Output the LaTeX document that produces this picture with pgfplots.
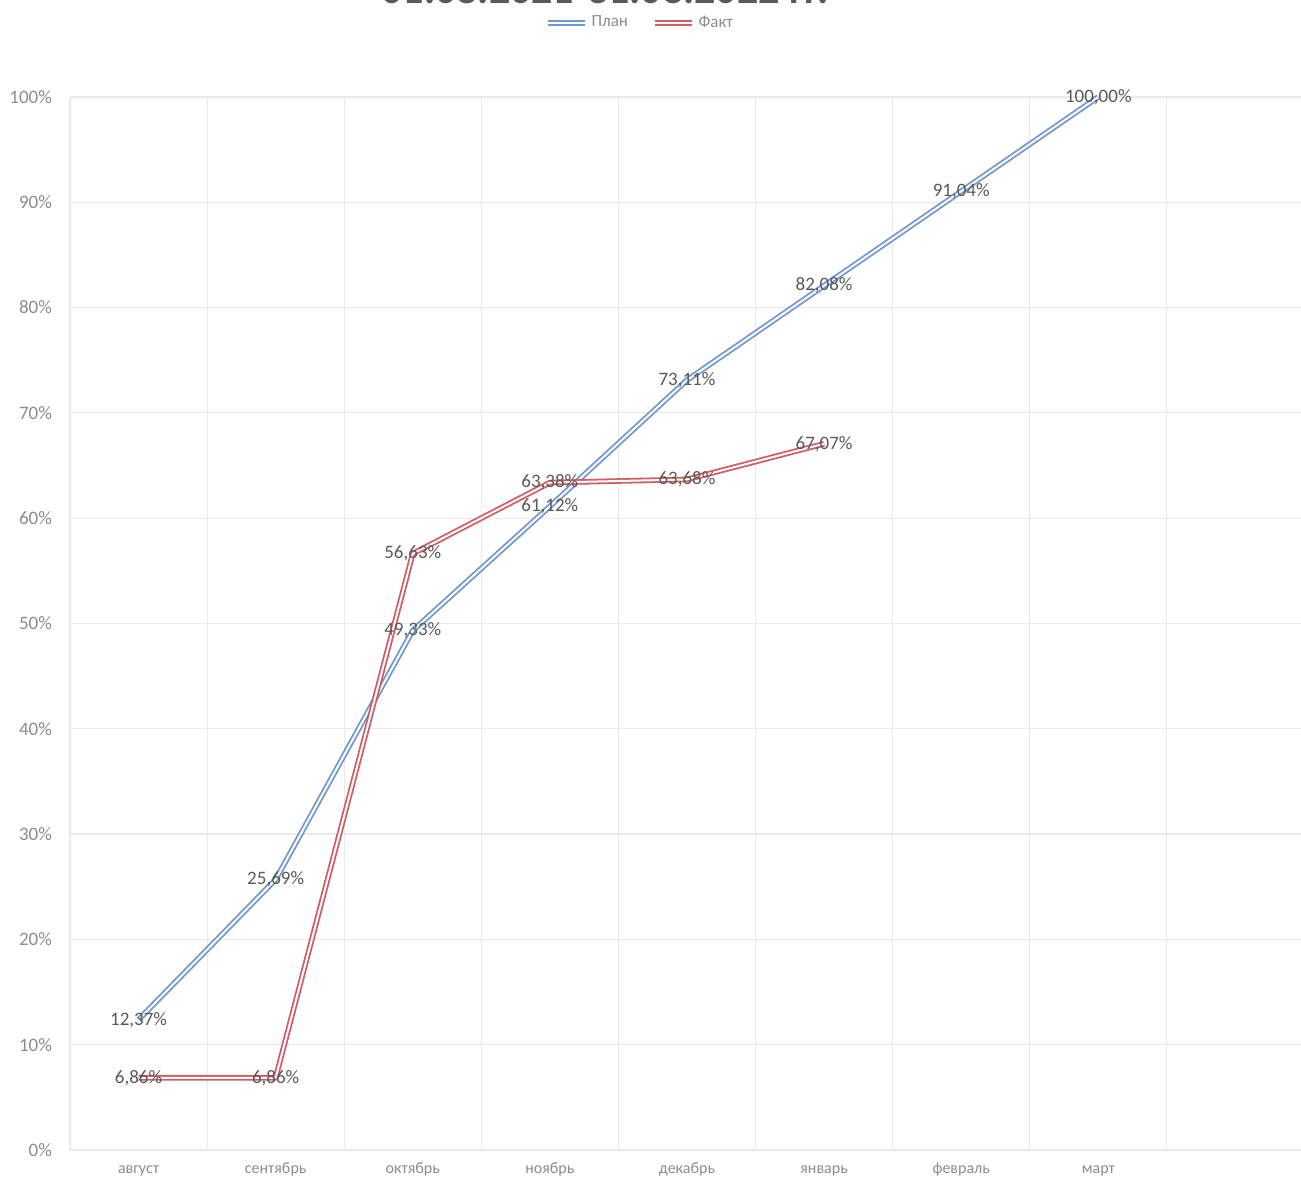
\documentclass[border=0pt]{standalone}
\usepackage{pgfplots}
\pgfplotsset{compat=1.18}
\usepackage{fontspec}
\setmainfont{Carlito}
\definecolor{planc}{RGB}{112,152,206}
\definecolor{faktc}{RGB}{210,92,102}
\definecolor{lblc}{RGB}{89,89,89}
\definecolor{tickc}{RGB}{140,140,140}
\definecolor{gridc}{RGB}{234,234,234}
\begin{document}
\begin{tikzpicture}
\begin{axis}[
  at={(0,0)}, anchor=south west,
  scale only axis, width=617pt, height=526.5pt,
  xmin=-0.5, xmax=8.5, ymin=0, ymax=100,
  clip=false,
  xtick={0,...,7},
  xticklabels={август,сентябрь,октябрь,ноябрь,декабрь,январь,февраль,март},
  minor xtick={-0.5,0.5,...,8.5},
  ytick={0,10,...,100},
  yticklabel={\pgfmathprintnumber{\tick}\%},
  /pgf/number format/assume math mode=true,
  xminorgrids, ymajorgrids,
  minor grid style={draw=gridc, line width=0.6pt},
  major grid style={draw=gridc, line width=0.6pt},
  axis line style={draw=none},
  major tick length=0pt, minor tick length=0pt,
  xticklabel style={font=\fontsize{8}{10}\selectfont, text=tickc, anchor=base, yshift=-12pt},
  yticklabel style={font=\fontsize{9.5}{11}\selectfont, text=tickc, anchor=east, xshift=-5.5pt},
  legend image code/.code={\draw[#1] (0pt,0pt) -- (18.5pt,0pt);},
  legend style={at={(0.4627,1.0703)}, anchor=center, draw=none, fill=none,
    legend columns=2, font=\fontsize{8.5}{10}\selectfont, text=tickc,
    /tikz/every even column/.append style={column sep=10pt}},
  every node near coord/.append style={text=lblc, anchor=center,
    font=\fontsize{9.5}{11}\selectfont},
  nodes near coords={\pgfmathprintnumber[fixed,fixed zerofill,precision=2,use comma]{\pgfplotspointmeta}\%},
  point meta=y,
]
\addplot[draw=planc, line width=0.9pt, double=white, double distance=1.0pt, line join=round]
  coordinates {(0,12.37) (1,25.69) (2,49.33) (3,61.12) (4,73.11) (5,82.08) (6,91.04) (7,100.00)};
\addlegendentry{План}
\addplot[draw=faktc, line width=0.9pt, double=white, double distance=1.0pt, line join=round]
  coordinates {(0,6.86) (1,6.86) (2,56.63) (3,63.38) (4,63.68) (5,67.07)};
\addlegendentry{Факт}
\node[anchor=base, font=\bfseries\fontsize{21}{25}\selectfont, text=lblc]
  at (rel axis cs:0.4335,1.0885) {01.08.2021-31.03.2022 гг.};
\end{axis}
\pgfresetboundingbox
\path[use as bounding box] (-35pt,-16pt) rectangle (615.5pt,575pt);
\end{tikzpicture}
\end{document}
